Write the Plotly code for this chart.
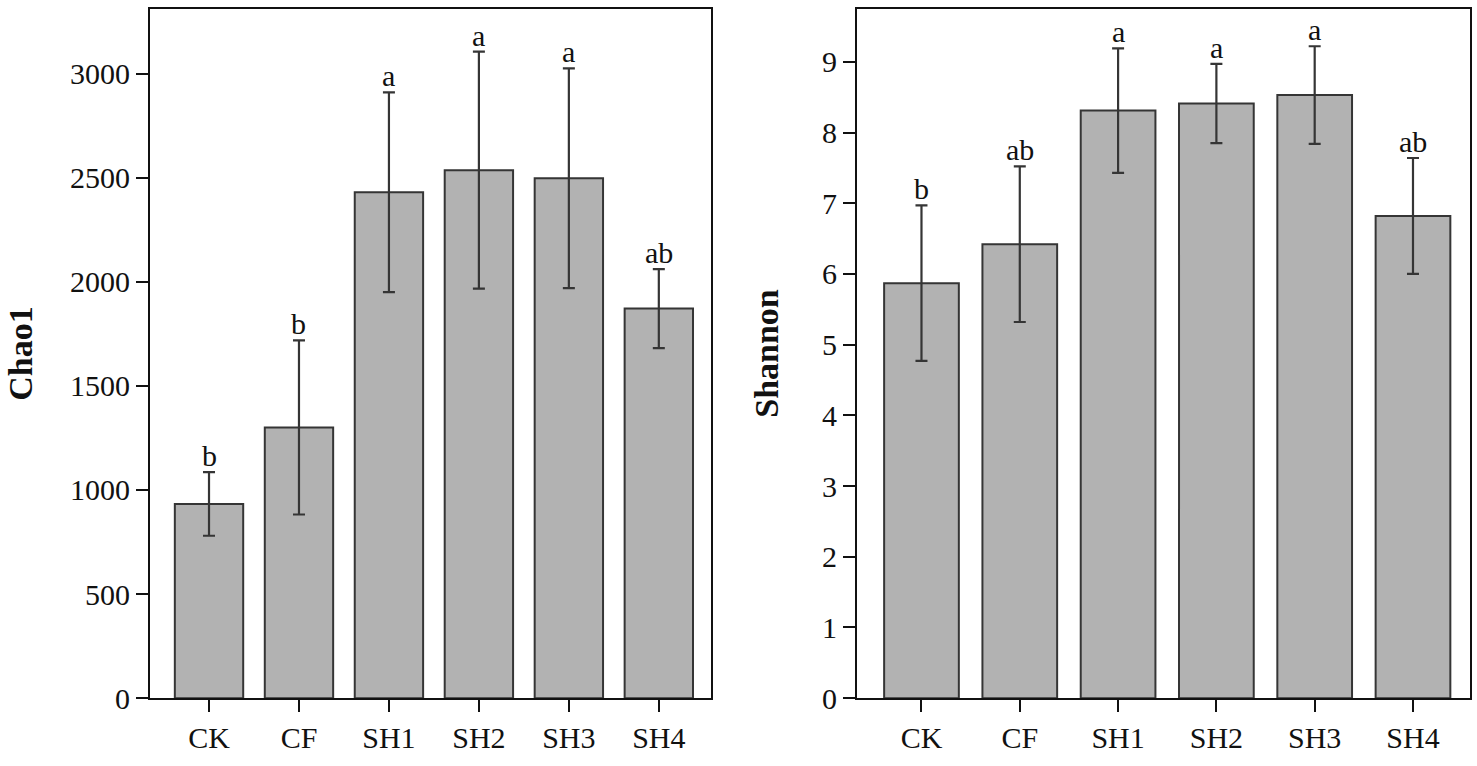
import plotly.graph_objects as go

categories = ["CK", "CF", "SH1", "SH2", "SH3", "SH4"]

chao1_mean = [933, 1300, 2430, 2536, 2497, 1871]
chao1_err = [153, 418, 480, 569, 528, 190]
chao1_letters = ["b", "b", "a", "a", "a", "ab"]

shannon_mean = [5.87, 6.42, 8.31, 8.41, 8.53, 6.82]
shannon_err = [1.10, 1.10, 0.88, 0.56, 0.69, 0.82]
shannon_letters = ["b", "ab", "a", "a", "a", "ab"]

chao1_ticks = [0, 500, 1000, 1500, 2000, 2500, 3000]
shannon_ticks = [0, 1, 2, 3, 4, 5, 6, 7, 8, 9]

FONT = "Liberation Serif, Times New Roman, serif"
BAR_FILL = "#b2b2b2"
EDGE = "#353535"

W, H = 1477, 766

fig = go.Figure()

fig.add_trace(go.Bar(
    x=categories, y=chao1_mean, xaxis="x", yaxis="y",
    width=0.76,
    marker=dict(color=BAR_FILL, line=dict(color=EDGE, width=2)),
    error_y=dict(type="data", array=chao1_err, visible=True,
                 color=EDGE, thickness=2.2, width=6),
    showlegend=False,
))
fig.add_trace(go.Bar(
    x=categories, y=shannon_mean, xaxis="x2", yaxis="y2",
    width=0.76,
    marker=dict(color=BAR_FILL, line=dict(color=EDGE, width=2)),
    error_y=dict(type="data", array=shannon_err, visible=True,
                 color=EDGE, thickness=2.2, width=6),
    showlegend=False,
))

annotations = []
for c, m, e, t in zip(categories, chao1_mean, chao1_err, chao1_letters):
    annotations.append(dict(x=c, y=m + e, xref="x", yref="y", text=t,
                            showarrow=False, yanchor="bottom", yshift=-2,
                            font=dict(family=FONT, size=30, color="#111")))
for c, m, e, t in zip(categories, shannon_mean, shannon_err, shannon_letters):
    annotations.append(dict(x=c, y=m + e, xref="x2", yref="y2", text=t,
                            showarrow=False, yanchor="bottom", yshift=-2,
                            font=dict(family=FONT, size=30, color="#111")))

axis_common = dict(
    showline=True, linecolor="#111", linewidth=2, mirror=True,
    ticks="outside", ticklen=12, tickwidth=2, tickcolor="#111",
    showgrid=False, zeroline=False,
    tickfont=dict(family=FONT, size=30, color="#111"),
)

y0 = 1 - 714 / H
y1 = 1 - 9 / H

fig.update_layout(
    width=W, height=H,
    margin=dict(l=0, r=0, t=0, b=0),
    paper_bgcolor="white", plot_bgcolor="white",
    bargap=0.24,
    annotations=annotations,
    xaxis=dict(domain=[150 / W, 711 / W], anchor="y", type="category",
               range=[-0.656, 5.58], **axis_common),
    yaxis=dict(domain=[y0, y1], anchor="x", range=[0, 3311],
               tickvals=chao1_ticks, ticktext=[str(v) for v in chao1_ticks],
               title=dict(text="<b>Chao1</b>", standoff=27,
                          font=dict(family=FONT, size=34, color="#111")),
               **axis_common),
    xaxis2=dict(domain=[857 / W, 1470 / W], anchor="y2", type="category",
                range=[-0.656, 5.58], **axis_common),
    yaxis2=dict(domain=[y0, y1], anchor="x2", range=[0, 9.75],
                tickvals=shannon_ticks, ticktext=[str(v) for v in shannon_ticks],
                title=dict(text="<b>Shannon</b>", standoff=33,
                           font=dict(family=FONT, size=34, color="#111")),
                **axis_common),
)

fig.write_html(
    "out.html",
    config={"displayModeBar": False},
    post_script="document.documentElement.style.margin='0';"
                "document.body.style.margin='0';"
                "document.body.style.overflow='hidden';",
)
